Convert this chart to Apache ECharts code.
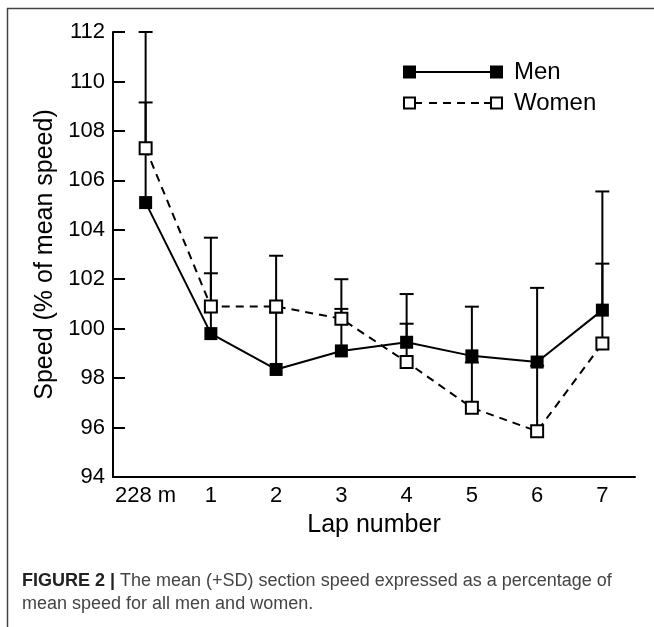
<!DOCTYPE html>
<html>
<head>
<meta charset="utf-8">
<script src="https://cdn.jsdelivr.net/npm/echarts@6/dist/echarts.min.js"></script>
<style>
html,body{margin:0;padding:0;background:#fff;}
#chart{width:654px;height:627px;}
</style>
</head>
<body>
<div id="chart"></div>
<script>
var categories = ['228 m', '1', '2', '3', '4', '5', '6', '7'];
var menMean   = [105.1, 99.8, 98.35, 99.1, 99.45, 98.9, 98.65, 100.75];
var menSD     = [6.9, 2.44, 2.3, 1.7, 1.95, 1.99, 3.0, 4.8];
var womenMean = [107.3, 100.9, 100.9, 100.4, 98.65, 96.8, 95.85, 99.4];
var womenSD   = [1.85, 2.78, 2.05, 1.6, 1.55, 1.83, 2.65, 3.23];
var yTicks    = [94, 112, 2];

var FONT = '"Liberation Sans", Arial, Helvetica, sans-serif';

function errData(mean, sd) {
  return mean.map(function (m, i) { return [i, m, +(m + sd[i]).toFixed(2)]; });
}

function renderErr(params, api) {
  var x = api.value(0), m = api.value(1), t = api.value(2);
  var p0 = api.coord([x, m]), p1 = api.coord([x, t]);
  return {
    type: 'group',
    children: [
      { type: 'line', shape: { x1: p0[0], y1: p0[1], x2: p1[0], y2: p1[1] }, style: { stroke: '#000', lineWidth: 2 } },
      { type: 'line', shape: { x1: p1[0] - 7, y1: p1[1], x2: p1[0] + 7, y2: p1[1] }, style: { stroke: '#000', lineWidth: 2 } }
    ]
  };
}

var menIcon = 'path://M0 0H13V13H0Z M13 5.5H87V7.5H13Z M87 0H100V13H87Z';
var womenIcon = 'path://M0 0H13V13H0Z M2 2V11H11V2Z ' +
  'M13 5.5H19V7.5H13Z M26 5.5H34V7.5H26Z M40 5.5H48V7.5H40Z M54 5.5H62V7.5H54Z M68 5.5H76V7.5H68Z M81 5.5H87V7.5H81Z ' +
  'M87 0H100V13H87Z M89 2V11H98V2Z';

var chart = echarts.init(document.getElementById('chart'), null, { renderer: 'canvas' });
chart.setOption({
  animation: false,
  backgroundColor: '#fff',
  textStyle: { fontFamily: FONT },
  grid: { left: 113, right: 19, top: 32, bottom: 150 },
  title: {
    left: 22, top: 570,
    padding: 0,
    text: '{b|FIGURE 2 |} {n|The mean (+SD) section speed expressed as a percentage of}\n{n|mean speed for all men and women.}',
    textStyle: {
      fontFamily: FONT,
      fontWeight: 'normal',
      rich: {
        b: { fontFamily: FONT, fontSize: 18, fontWeight: 'bold', color: '#222', lineHeight: 23 },
        n: { fontFamily: FONT, fontSize: 18, fontWeight: 'normal', color: '#444', lineHeight: 23 }
      }
    }
  },
  legend: {
    orient: 'vertical',
    left: 403, top: 60,
    padding: 0,
    itemWidth: 100, itemHeight: 13,
    itemGap: 7,
    textStyle: { fontFamily: FONT, fontSize: 24, color: '#000', lineHeight: 24, padding: [0, 0, 0, 6] },
    data: [
      { name: 'Men', icon: menIcon, itemStyle: { color: '#000', borderWidth: 0 } },
      { name: 'Women', icon: womenIcon, itemStyle: { color: '#000', borderWidth: 0 } }
    ]
  },
  xAxis: {
    type: 'category',
    data: categories,
    boundaryGap: true,
    name: 'Lap number',
    nameLocation: 'middle',
    nameGap: 36,
    nameTextStyle: { fontFamily: FONT, fontSize: 25, color: '#000' },
    axisLine: { lineStyle: { color: '#000', width: 2 } },
    axisTick: { inside: true, length: 11, alignWithLabel: true, interval: 0, lineStyle: { color: '#000', width: 2 } },
    axisLabel: { fontFamily: FONT, fontSize: 22, color: '#000', margin: 8, interval: 0 },
    splitLine: { show: false }
  },
  yAxis: {
    type: 'value',
    min: yTicks[0], max: yTicks[1], interval: yTicks[2],
    name: 'Speed (% of mean speed)',
    nameLocation: 'middle',
    nameGap: 55,
    nameTextStyle: { fontFamily: FONT, fontSize: 25, color: '#000' },
    axisLine: { show: true, lineStyle: { color: '#000', width: 2 } },
    axisTick: { show: true, inside: true, length: 12, lineStyle: { color: '#000', width: 2 } },
    axisLabel: { fontFamily: FONT, fontSize: 22, color: '#000', margin: 8 },
    splitLine: { show: false }
  },
  graphic: [
    { type: 'line', shape: { x1: 7, y1: 8.5, x2: 654, y2: 8.5 }, style: { stroke: '#444', lineWidth: 1.5 }, silent: true },
    { type: 'line', shape: { x1: 7.5, y1: 8, x2: 7.5, y2: 627 }, style: { stroke: '#444', lineWidth: 1.5 }, silent: true }
  ],
  series: [
    { type: 'custom', name: 'menSD', renderItem: renderErr, data: errData(menMean, menSD), z: 1, silent: true },
    { type: 'custom', name: 'womenSD', renderItem: renderErr, data: errData(womenMean, womenSD), z: 1, silent: true },
    {
      type: 'line', name: 'Men', data: menMean, z: 3,
      symbol: 'rect', symbolSize: 13,
      itemStyle: { color: '#000' },
      lineStyle: { color: '#000', width: 2 }
    },
    {
      type: 'line', name: 'Women', data: womenMean, z: 4,
      symbol: 'rect', symbolSize: 12,
      itemStyle: { color: '#fff', borderColor: '#000', borderWidth: 2 },
      lineStyle: { color: '#000', width: 2, type: [8, 6] }
    }
  ]
});
</script>
</body>
</html>
